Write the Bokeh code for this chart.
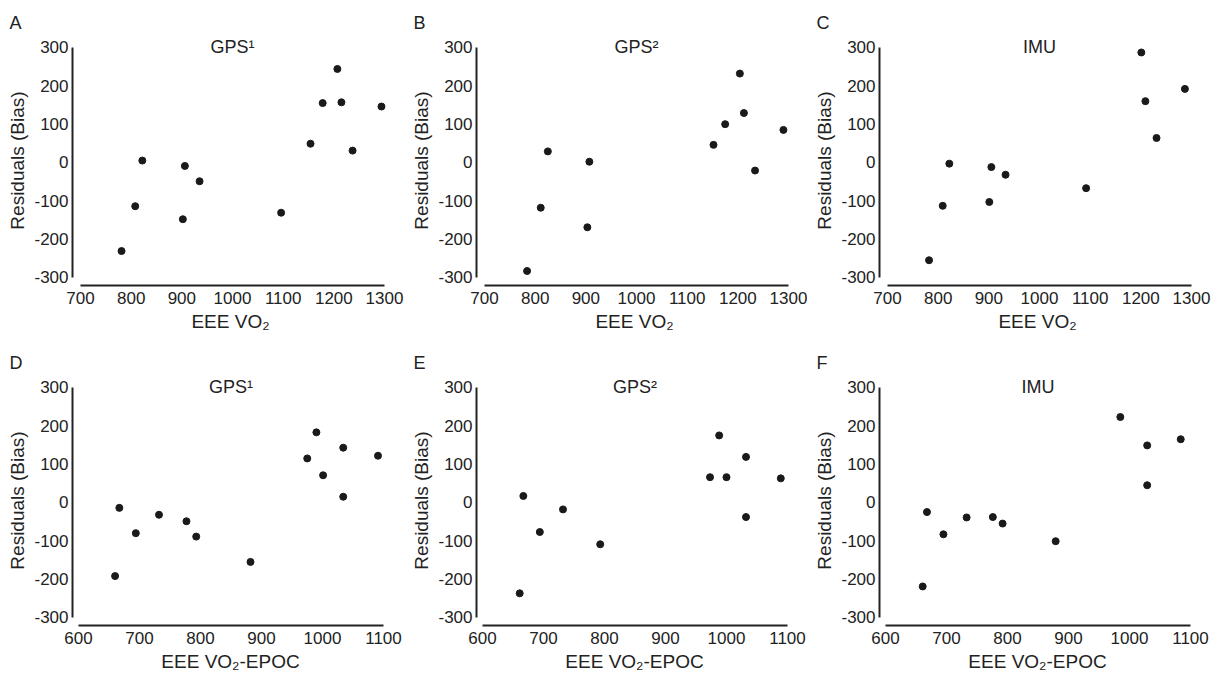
from bokeh.plotting import figure
from bokeh.layouts import row, column
from bokeh.models import FixedTicker, Label
from bokeh.embed import file_html
from bokeh.resources import INLINE

# ---- data ----
y_ticks = [-300, -200, -100, 0, 100, 200, 300]
x_ticks_vo2 = [700, 800, 900, 1000, 1100, 1200, 1300]
x_ticks_epoc = [600, 700, 800, 900, 1000, 1100]

letters = ["A", "B", "C", "D", "E", "F"]
subtitles = ["GPS\u00b9", "GPS\u00b2", "IMU", "GPS\u00b9", "GPS\u00b2", "IMU"]
y_label = "Residuals (Bias)"
x_label_vo2 = "EEE VO\u2082"
x_label_epoc = "EEE VO\u2082-EPOC"

a_x = [781, 808, 822, 902, 906, 935, 1096, 1154, 1178, 1207, 1215, 1237, 1294]
a_y = [-231, -114, 5, -148, -9, -49, -131, 49, 155, 244, 157, 31, 146]
b_x = [784, 811, 825, 903, 907, 1152, 1175, 1204, 1212, 1234, 1290]
b_y = [-283, -118, 29, -169, 2, 46, 100, 232, 129, -21, 85]
c_x = [782, 809, 822, 901, 905, 933, 1092, 1201, 1209, 1231, 1287]
c_y = [-255, -113, -3, -103, -12, -32, -67, 287, 160, 64, 192]
d_x = [660, 667, 694, 732, 777, 793, 882, 975, 990, 1001, 1034, 1034, 1091]
d_y = [-192, -14, -80, -32, -49, -89, -155, 115, 183, 71, 143, 15, 122]
e_x = [661, 667, 694, 732, 793, 973, 988, 1000, 1032, 1032, 1089]
e_y = [-237, 17, -77, -18, -109, 66, 175, 66, 119, -38, 63]
f_x = [661, 668, 695, 733, 776, 792, 879, 985, 1029, 1029, 1084]
f_y = [-219, -25, -83, -39, -38, -55, -101, 223, 149, 45, 165]

FONT = "Liberation Sans"
INK = "#222222"
FRAME_W = 316
FRAME_H = 250


def make_panel(letter, subtitle, xs, ys, xticks, xlabel, x_range,
               left, right, top, bottom):
    p = figure(frame_width=FRAME_W, frame_height=FRAME_H,
               x_range=x_range, y_range=(-320.9, 331.3),
               output_backend="svg", toolbar_location=None,
               min_border_left=left, min_border_right=right,
               min_border_top=top, min_border_bottom=bottom)
    p.outline_line_color = None
    p.xgrid.visible = False
    p.ygrid.visible = False
    p.background_fill_color = "white"
    p.border_fill_color = "white"

    p.title.text = letter
    p.title.text_font = FONT
    p.title.text_font_size = "18px"
    p.title.text_font_style = "normal"
    p.title.text_color = INK
    p.title.align = "left"
    p.title.offset = -63
    p.title.standoff = 5

    for ax, ticks in ((p.xaxis[0], xticks), (p.yaxis[0], y_ticks)):
        ax.ticker = FixedTicker(ticks=ticks)
        ax.bounds = (ticks[0], ticks[-1])
        ax.major_label_overrides = {t: str(t) for t in ticks}
        ax.axis_line_width = 2
        ax.axis_line_color = INK
        ax.major_tick_line_color = None
        ax.minor_tick_line_color = None
        ax.major_tick_out = 0
        ax.major_tick_in = 0
        ax.major_label_text_font = FONT
        ax.major_label_text_font_size = "17px"
        ax.major_label_text_color = INK
        ax.axis_label_text_font = FONT
        ax.axis_label_text_font_size = "19px"
        ax.axis_label_text_font_style = "normal"
        ax.axis_label_text_color = INK
    p.xaxis.axis_label = xlabel
    p.yaxis.axis_label = y_label
    p.xaxis.major_label_standoff = 6
    p.xaxis.axis_label_standoff = 4
    p.yaxis.major_label_standoff = 4
    p.yaxis.axis_label_standoff = 3

    p.scatter(xs, ys, size=7, color="#1a1a1a")

    mid = (xticks[0] + xticks[-1]) / 2
    p.add_layout(Label(x=mid, y=y_ticks[-1], text=subtitle, text_align="center",
                       text_baseline="middle", text_font=FONT, text_font_size="18px",
                       text_color=INK))
    return p


widths = [404, 403, 410]
lefts = [72, 72, 72]
rights = [w - l - FRAME_W for w, l in zip(widths, lefts)]

top_data = [(a_x, a_y), (b_x, b_y), (c_x, c_y)]
bot_data = [(d_x, d_y), (e_x, e_y), (f_x, f_y)]

top_row = [make_panel(letters[i], subtitles[i], top_data[i][0], top_data[i][1],
                      x_ticks_vo2, x_label_vo2, (684.2, 1307.9),
                      lefts[i], rights[i], 35, 55) for i in range(3)]
bot_row = [make_panel(letters[i + 3], subtitles[i + 3], bot_data[i][0], bot_data[i][1],
                      x_ticks_epoc, x_label_epoc, (590.2, 1108.2),
                      lefts[i], rights[i], 35, 49) for i in range(3)]

layout = column(row(*top_row), row(*bot_row))
open("out.html", "w").write(file_html(layout, INLINE))
